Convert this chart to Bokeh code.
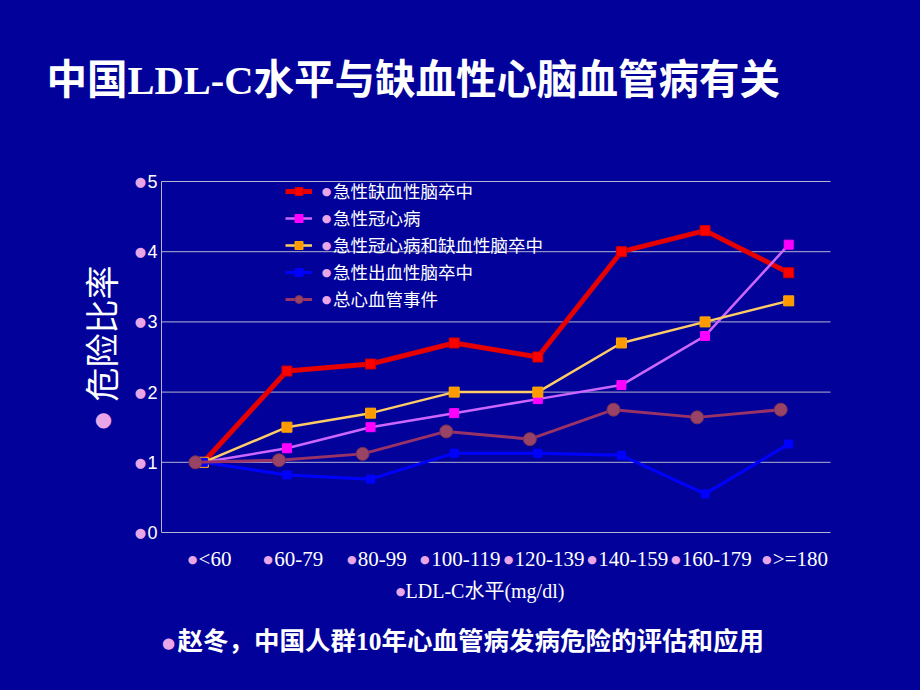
import math
from bokeh.plotting import figure
from bokeh.models import (ColumnDataSource, Range1d, FactorRange, Label, Title,
                          Legend, LegendItem)
from bokeh.transform import dodge
from bokeh.core.properties import value
from bokeh.embed import file_html
from bokeh.resources import INLINE

# ---------------- data ----------------
categories = ["<60", "60-79", "80-99", "100-119", "120-139", "140-159", "160-179", ">=180"]
acute_ischemic_stroke = [1.0, 2.3, 2.4, 2.7, 2.5, 4.0, 4.3, 3.7]
acute_chd = [1.0, 1.2, 1.5, 1.7, 1.9, 2.1, 2.8, 4.1]
acute_chd_and_ischemic = [1.0, 1.5, 1.7, 2.0, 2.0, 2.7, 3.0, 3.3]
acute_hemorrhagic_stroke = [1.0, 0.82, 0.76, 1.13, 1.13, 1.10, 0.55, 1.26]
total_cvd_events = [1.0, 1.03, 1.12, 1.44, 1.33, 1.75, 1.64, 1.75]
series_names = ["急性缺血性脑卒中", "急性冠心病", "急性冠心病和缺血性脑卒中",
                "急性出血性脑卒中", "总心血管事件"]
y_ticks = [0, 1, 2, 3, 4, 5]
title_text = "中国LDL-C水平与缺血性心脑血管病有关"
y_title = "危险比率"
x_title = "LDL-C水平(mg/dl)"
footnote = "赵冬，中国人群10年心血管病发病危险的评估和应用"

# ---------------- style / layout ----------------
BG = "#02029A"
PINK = "#E8A6E8"
WHITE = "#FFFFFF"
GRID = "#B4B4CC"
W, H = 920, 690
PL, PR, PT, PB = 161, 830, 181, 532          # plot area (axes box) in canvas px
FRAME_L, FRAME_T = 71, 112                     # drawing frame (text lives inside it)
n = len(categories)
ux = (PR - PL) / n                             # px per category
uy = (PB - PT) / y_ticks[-1]                   # px per unit of hazard ratio
pad_x = (PL - FRAME_L) / ux
SERIF_CJK = "'Liberation Serif', 'Noto Sans CJK SC'"
CJK = "Noto Sans CJK SC"

p = figure(width=W, height=H,
           x_range=FactorRange(*categories, range_padding=pad_x, range_padding_units="absolute"),
           y_range=Range1d(-(H - PB) / uy, (PB - FRAME_T) / uy),
           x_axis_location=None, y_axis_location=None,
           output_backend="svg", toolbar_location=None,
           min_border_left=FRAME_L, min_border_right=0, min_border_top=FRAME_T, min_border_bottom=0,
           background_fill_color=BG, border_fill_color=BG, outline_line_color=None)
p.grid.visible = False
p.styles = {"background-color": BG}


def dx(px):
    return (px - PL) / ux


def dy(py):
    return (PB - py) / uy


# title
p.add_layout(Title(text=title_text, align="left", offset=46 - FRAME_L, standoff=20,
                   text_color=WHITE, text_font=SERIF_CJK, text_font_size="40.5px",
                   text_font_style="bold"), "above")

# grid lines and axis lines
gsrc = ColumnDataSource(dict(y=y_ticks[1:]))
p.segment(x0=0, x1=n, y0="y", y1="y", source=gsrc, line_color=GRID, line_width=1)
p.segment(x0=[0, 0], y0=[0, 0], x1=[0, n], y1=[y_ticks[-1], 0], line_color=GRID, line_width=1)

# y tick labels and bullets
ysrc = ColumnDataSource(dict(y=y_ticks, t=[str(t) for t in y_ticks], b=["●"] * len(y_ticks)))
p.text(x=0, y="y", text="t", source=ysrc, x_offset=-4, text_color=WHITE,
       text_font=value("Liberation Sans"), text_font_size="18px",
       text_align="right", text_baseline="middle")
p.text(x=0, y="y", text="b", source=ysrc, x_offset=-21, text_color=PINK,
       text_font=value("DejaVu Sans"), text_font_size="13px",
       text_align="center", text_baseline="middle")

# ---------------- series ----------------
src = ColumnDataSource(dict(cat=categories, a=acute_ischemic_stroke, b=acute_chd,
                            c=acute_chd_and_ischemic, d=acute_hemorrhagic_stroke,
                            e=total_cvd_events))
xc = "cat"
xe = dodge("cat", -0.095, range=p.x_range)

items = []
specs = [
    ("a", xc, "#E60000", 5, "square", "#FF0000", "#CC0000", 10),
    ("b", xc, "#CC66FF", 2.5, "square", "#FF00FF", "#FF00FF", 9),
    ("c", xc, "#FFCC66", 2.5, "square", "#FF9900", "#FFAA00", 10),
    ("d", xc, "#0000FF", 3, "square", "#0000FF", "#0000FF", 8),
    ("e", xe, "#993366", 3, "circle", "#994466", "#7A3355", 13),
]
for (col, xs, lc, lw, mk, mf, ml, ms), name in zip(specs, series_names):
    lr = p.line(x=xs, y=col, source=src, line_color=lc, line_width=lw)
    sr = p.scatter(x=xs, y=col, source=src, marker=mk, size=ms, fill_color=mf, line_color=ml)
    items.append(LegendItem(label=name, renderers=[lr, sr]))

legend = Legend(items=items, location=(285 - FRAME_L, H - 311), orientation="vertical",
                glyph_width=27, glyph_height=20, label_height=20, spacing=2,
                padding=0, margin=0, label_standoff=21,
                background_fill_alpha=0, border_line_color=None,
                label_text_color=WHITE, label_text_font=CJK, label_text_font_size="17.5px")
p.add_layout(legend)

# legend bullets
for ry in [191, 218, 245, 272, 299]:
    p.add_layout(Label(x=dx(326), y=dy(ry), text="●", text_color=PINK,
                       text_font="DejaVu Sans", text_font_size="11px",
                       text_align="center", text_baseline="middle"))

# x tick labels with bullets
tw = {"-": 0.333, "<": 0.564, ">": 0.564, "=": 0.564}
XFS = 21


def est_w(s):
    return sum(tw.get(ch, 0.5) for ch in s) * XFS


xsrc = ColumnDataSource(dict(cat=categories, t=categories, b=["●"] * n,
                             boff=[-(est_w(c) / 2 + 6) for c in categories]))
xlab_x = dodge("cat", 0.14, range=p.x_range)
p.text(x=xlab_x, y=dy(558), text="t", source=xsrc, text_color=WHITE,
       text_font=value("Liberation Serif"), text_font_size=f"{XFS}px",
       text_align="center", text_baseline="middle")
p.text(x=xlab_x, y=dy(559), text="b", x_offset="boff", source=xsrc,
       text_color=PINK, text_font=value("DejaVu Sans"), text_font_size="11px",
       text_align="center", text_baseline="middle")

# x axis title
p.add_layout(Label(x=dx(400), y=dy(591), text="●", text_color=PINK, text_font="DejaVu Sans",
                   text_font_size="11px", text_align="center", text_baseline="middle"))
p.add_layout(Label(x=dx(405), y=dy(590), text=x_title, text_color=WHITE, text_font=SERIF_CJK,
                   text_font_size="20px", text_align="left", text_baseline="middle"))

# y axis title (rotated)
p.add_layout(Label(x=dx(100), y=dy(401), text=y_title, angle=math.pi / 2, text_color=WHITE,
                   text_font=CJK, text_font_size="34px", text_align="left",
                   text_baseline="middle"))
p.add_layout(Label(x=dx(103), y=dy(418), text="●", text_color=PINK, text_font="DejaVu Sans",
                   text_font_size="20px", text_align="center", text_baseline="middle"))

# footnote
p.add_layout(Label(x=dx(168), y=dy(642), text="●", text_color=PINK, text_font="DejaVu Sans",
                   text_font_size="15px", text_align="center", text_baseline="middle"))
p.add_layout(Label(x=dx(177), y=dy(641), text=footnote, text_color=WHITE, text_font=SERIF_CJK,
                   text_font_size="25.5px", text_font_style="bold", text_align="left",
                   text_baseline="middle"))

open("out.html", "w").write(file_html(p, INLINE))
